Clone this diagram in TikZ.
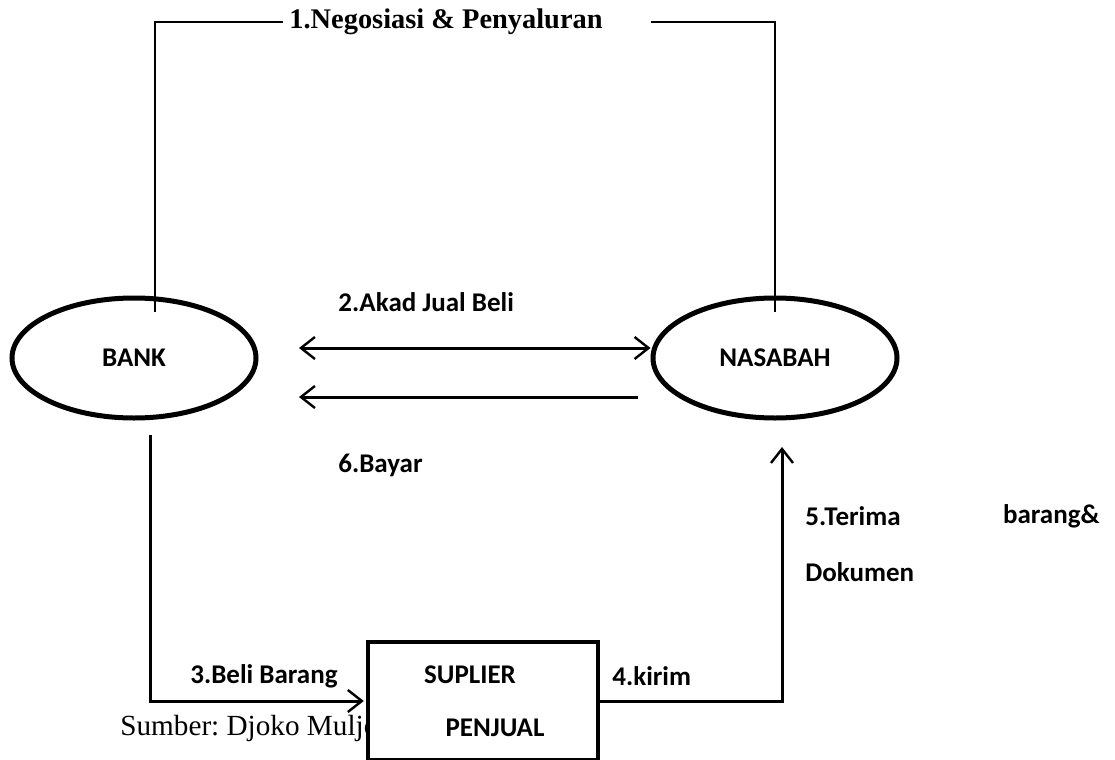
\documentclass[tikz,border=0pt]{standalone}
\usepackage{fontspec}
\setmainfont{Liberation Serif}
\newfontfamily\calibri{Carlito}
\usetikzlibrary{shapes,arrows.meta,positioning}
\frenchspacing

\begin{document}
\begin{tikzpicture}[
    x=0.5pt, y=-0.5pt,
    barb/.tip={Straight Barb[length=7pt, width=11pt, line width=1.2pt]},
    lbl/.style={font=\calibri\bfseries\fontsize{13.5}{15}\selectfont, inner sep=0pt},
    party/.style={ellipse, draw, line width=2.5pt, minimum width=122pt, minimum height=60pt, lbl},
    box/.style={rectangle, draw, line width=2.2pt, fill=white, minimum width=115pt, minimum height=59pt},
    line/.style={line width=0.8pt},
    arrow/.style={line width=1.5pt, -barb},
    dblarrow/.style={line width=1.5pt, barb-barb}
]
    \useasboundingbox (0,0) rectangle (1115,760);

    % parties
    \node[party] (bank) at (134,358) {BANK};
    \node[party] (nasabah) at (775,358) {NASABAH};

    % 1. negosiasi
    \node[font=\bfseries\fontsize{14.2}{16}\selectfont, inner sep=0pt] (nego) at (446,22) {1.Negosiasi \& Penyaluran};
    \coordinate (b1) at (155,312);
    \coordinate (n1) at (775,312);
    \draw[line] (b1) |- ([xshift=-3pt]nego.west);
    \draw[line] ([xshift=24pt]nego.east) -| (n1);

    % 2. akad / 6. bayar
    \node[lbl, anchor=west] (akad) at (338,302) {2.Akad Jual Beli};
    \coordinate (a2) at (299,348);
    \coordinate (a6) at (638,397);
    \draw[dblarrow] (a2) -- (a2 -| nasabah.west);
    \draw[arrow] (a6) -- (a6 -| a2);
    \node[lbl, anchor=west] (bayar) at (338,465) {6.Bayar};

    % source + suplier
    \node[font=\fontsize{14.6}{17}\selectfont, inner sep=0pt, anchor=west] (sumber) at (120,728) {Sumber: Djoko Muljo};
    \node[box] (suplier) at (483,701) {};
    \node[lbl] (sup) at (470,675) {SUPLIER};
    \node[lbl] (pen) at (495,728) {PENJUAL};

    % 3. beli barang
    \coordinate (b3) at (150,435);
    \draw[arrow, shorten >=1pt] (b3) |- (suplier.west);
    \node[lbl, anchor=west] (beli) at (190,676) {3.Beli Barang};

    % 4. kirim / 5. terima
    \coordinate (n5) at (782,447);
    \draw[arrow] (suplier.east) -| (n5);
    \node[lbl, anchor=west] (kirim) at (612,676) {4.kirim};
    \node[lbl, anchor=west] (terima) at (805,516) {5.Terima};
    \node[lbl, anchor=east] (barang) at (1100,516) {barang\&};
    \node[lbl, anchor=west] (dok) at (805,572) {Dokumen};
\end{tikzpicture}
\end{document}
